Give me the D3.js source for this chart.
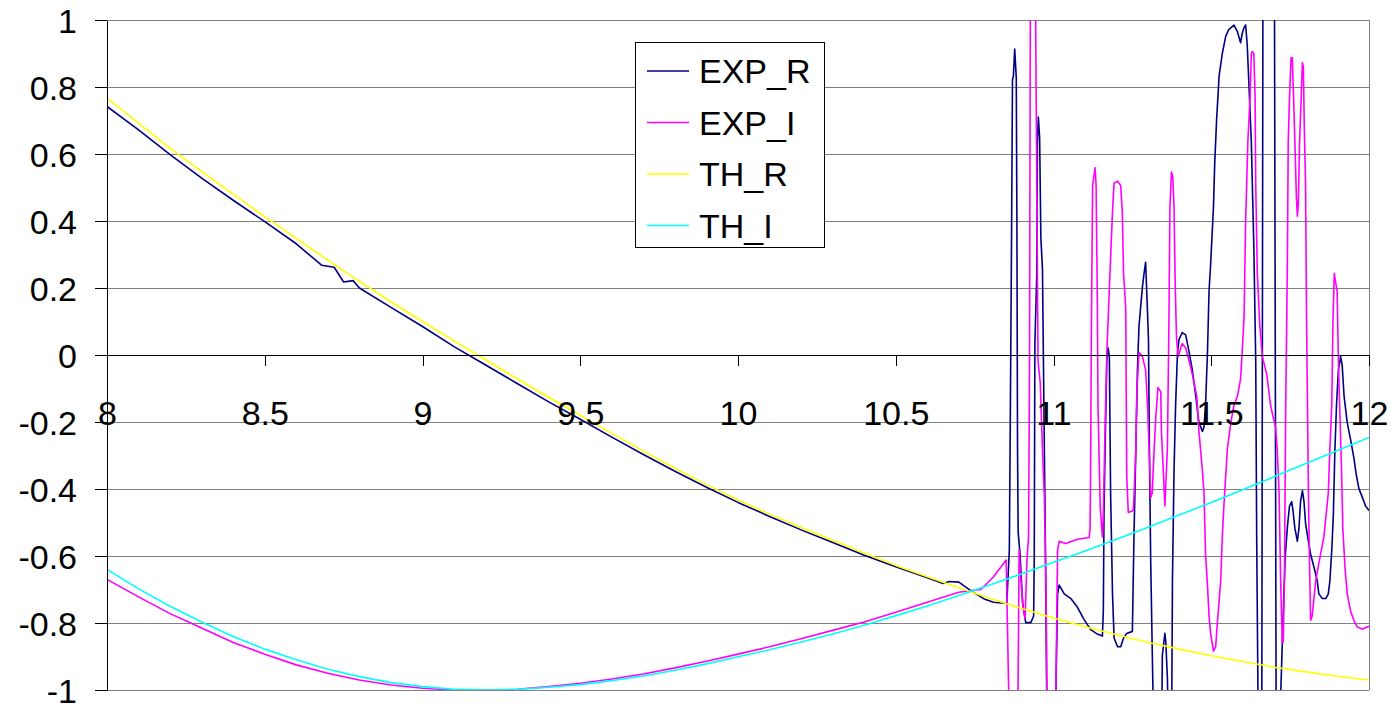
<!DOCTYPE html>
<html>
<head>
<meta charset="utf-8">
<script src="https://cdn.jsdelivr.net/npm/d3@7"></script>
<style>
  html, body { margin: 0; padding: 0; background: #fff; }
  svg { display: block; font-family: "Liberation Sans", Arial, sans-serif; }
</style>
</head>
<body>
<div id="chart"></div>
<script>
// theory curves, sampled every 0.1
const thX = [8.0, 8.1, 8.2, 8.3, 8.4, 8.5, 8.6, 8.7, 8.8, 8.9,
             9.0, 9.1, 9.2, 9.3, 9.4, 9.5, 9.6, 9.7, 9.8, 9.9,
             10.0, 10.1, 10.2, 10.3, 10.4, 10.5, 10.6, 10.7, 10.8, 10.9,
             11.0, 11.1, 11.2, 11.3, 11.4, 11.5, 11.6, 11.7, 11.8, 11.9, 12.0];
const thR = [0.767, 0.692, 0.617, 0.548, 0.480, 0.413, 0.348, 0.283, 0.220, 0.159,
             0.100, 0.042, -0.014, -0.071, -0.126, -0.180, -0.234, -0.287, -0.338, -0.387,
             -0.433, -0.475, -0.515, -0.553, -0.591, -0.628, -0.662, -0.695, -0.727, -0.757,
             -0.785, -0.811, -0.835, -0.858, -0.878, -0.898, -0.915, -0.932, -0.946, -0.959, -0.970];
const thI = [-0.640, -0.698, -0.750, -0.797, -0.840, -0.878, -0.910, -0.938, -0.960, -0.978,
             -0.990, -0.998, -1.000, -0.998, -0.992, -0.984, -0.972, -0.958, -0.941, -0.922,
             -0.901, -0.880, -0.857, -0.833, -0.807, -0.778, -0.749, -0.718, -0.686, -0.653,
             -0.619, -0.585, -0.550, -0.514, -0.477, -0.440, -0.402, -0.363, -0.324, -0.285, -0.246];

// measured curves [x, value]
const expR = [[8.0,0.742],[8.1,0.672],[8.2,0.598],[8.3,0.528],[8.4,0.462],[8.5,0.398],[8.6,0.332],[8.68,0.268],[8.72,0.262],[8.75,0.218],[8.78,0.222],[8.8,0.200],[8.9,0.142],[9.0,0.085],[9.1,0.025],[9.2,-0.030],[9.3,-0.085],[9.4,-0.140],[9.5,-0.192],[9.6,-0.245],[9.7,-0.297],[9.8,-0.347],[9.9,-0.395],[10.0,-0.440],[10.1,-0.482],[10.2,-0.522],[10.3,-0.560],[10.4,-0.598],[10.5,-0.632],[10.6,-0.665],[10.65,-0.682],[10.67,-0.676],[10.70,-0.678],[10.74,-0.705],[10.78,-0.728],[10.81,-0.738],[10.852,-0.742],[10.860,-0.582],[10.863,-0.202],[10.867,0.349],[10.870,0.821],[10.873,0.834],[10.877,0.913],[10.882,0.828],[10.884,0.401],[10.886,-0.281],[10.888,-0.530],[10.894,-0.595],[10.902,-0.740],[10.912,-0.799],[10.928,-0.799],[10.937,-0.779],[10.939,-0.609],[10.941,0.034],[10.947,0.244],[10.949,0.637],[10.952,0.710],[10.956,0.650],[10.960,0.349],[10.965,0.257],[10.970,-0.189],[10.974,-0.543],[10.978,-0.963],[10.981,-1.2],[11.004,-1.2],[11.013,-0.713],[11.018,-0.687],[11.034,-0.713],[11.055,-0.727],[11.076,-0.753],[11.097,-0.790],[11.118,-0.820],[11.139,-0.833],[11.155,-0.839],[11.158,-0.761],[11.160,-0.477],[11.164,-0.254],[11.169,-0.018],[11.173,0.021],[11.177,-0.005],[11.181,-0.412],[11.187,-0.713],[11.192,-0.845],[11.203,-0.871],[11.213,-0.871],[11.222,-0.845],[11.232,-0.831],[11.250,-0.825],[11.255,-0.543],[11.261,-0.281],[11.266,-0.045],[11.271,0.087],[11.282,0.205],[11.287,0.244],[11.292,0.277],[11.298,0.126],[11.301,0.047],[11.304,-0.281],[11.308,-0.609],[11.313,-0.884],[11.319,-1.2],[11.342,-1.2],[11.345,-0.897],[11.353,-0.831],[11.356,-0.858],[11.361,-0.963],[11.366,-1.2],[11.374,-1.2],[11.377,-0.674],[11.382,-0.346],[11.387,-0.150],[11.393,0.008],[11.398,0.047],[11.408,0.067],[11.419,0.060],[11.430,0.008],[11.440,-0.045],[11.451,-0.123],[11.461,-0.202],[11.472,-0.228],[11.477,-0.215],[11.482,-0.150],[11.488,0.008],[11.493,0.191],[11.498,0.270],[11.507,0.441],[11.511,0.572],[11.517,0.703],[11.525,0.834],[11.535,0.900],[11.546,0.952],[11.556,0.972],[11.572,0.985],[11.583,0.965],[11.593,0.932],[11.598,0.959],[11.604,0.978],[11.609,0.985],[11.614,0.926],[11.620,0.795],[11.627,0.637],[11.635,0.323],[11.641,-0.018],[11.644,-0.543],[11.648,-1.0],[11.651,-1.2],[11.660,-1.2],[11.664,1.2],[11.700,1.2],[11.706,-1.2],[11.714,-1.2],[11.727,-0.805],[11.734,-0.609],[11.741,-0.517],[11.748,-0.451],[11.755,-0.438],[11.759,-0.464],[11.765,-0.517],[11.773,-0.556],[11.778,-0.517],[11.783,-0.438],[11.789,-0.405],[11.794,-0.438],[11.799,-0.503],[11.808,-0.556],[11.815,-0.595],[11.826,-0.635],[11.836,-0.674],[11.841,-0.713],[11.852,-0.727],[11.863,-0.727],[11.871,-0.713],[11.876,-0.674],[11.882,-0.582],[11.887,-0.477],[11.892,-0.281],[11.897,-0.150],[11.903,-0.045],[11.910,-0.005],[11.915,-0.031],[11.921,-0.123],[11.931,-0.202],[11.942,-0.254],[11.952,-0.307],[11.960,-0.359],[11.968,-0.399],[11.979,-0.425],[11.989,-0.451],[12.0,-0.464]];

const expI = [[8.0,-0.670],[8.1,-0.722],[8.2,-0.772],[8.3,-0.815],[8.4,-0.858],[8.5,-0.893],[8.6,-0.925],[8.7,-0.950],[8.8,-0.970],[8.9,-0.985],[9.0,-0.995],[9.1,-1.000],[9.2,-1.002],[9.3,-0.998],[9.4,-0.990],[9.5,-0.980],[9.6,-0.967],[9.7,-0.952],[9.8,-0.934],[9.9,-0.914],[10.0,-0.893],[10.1,-0.871],[10.2,-0.847],[10.3,-0.822],[10.4,-0.797],[10.5,-0.768],[10.6,-0.738],[10.7,-0.708],[10.74,-0.703],[10.77,-0.700],[10.81,-0.662],[10.85,-0.612],[10.862,-1.2],[10.886,-1.2],[10.891,-0.582],[10.897,-0.674],[10.905,-0.766],[10.910,-0.786],[10.916,-0.609],[10.921,-0.543],[10.924,-0.018],[10.927,1.2],[10.942,1.2],[10.947,0.506],[10.951,-0.018],[10.958,-0.084],[10.965,-0.281],[10.971,-0.425],[10.976,-0.674],[10.981,-1.2],[11.005,-1.2],[11.013,-0.582],[11.018,-0.556],[11.039,-0.563],[11.076,-0.550],[11.113,-0.545],[11.116,-0.517],[11.118,-0.281],[11.120,0.073],[11.124,0.506],[11.132,0.559],[11.135,0.506],[11.139,0.165],[11.141,-0.150],[11.148,-0.451],[11.155,-0.543],[11.158,-0.477],[11.162,-0.281],[11.169,0.008],[11.179,0.244],[11.187,0.428],[11.192,0.513],[11.203,0.519],[11.213,0.506],[11.218,0.428],[11.222,0.244],[11.229,0.139],[11.232,-0.359],[11.237,-0.470],[11.253,-0.464],[11.255,-0.425],[11.261,-0.281],[11.264,-0.110],[11.271,0.008],[11.282,-0.005],[11.292,-0.045],[11.298,-0.150],[11.303,-0.281],[11.308,-0.425],[11.313,-0.412],[11.319,-0.281],[11.324,-0.189],[11.331,-0.097],[11.340,-0.110],[11.342,-0.228],[11.348,-0.346],[11.353,-0.451],[11.356,-0.386],[11.361,-0.281],[11.366,0.113],[11.369,0.441],[11.374,0.546],[11.378,0.532],[11.382,0.441],[11.386,0.200],[11.390,0.050],[11.395,-0.005],[11.408,0.034],[11.419,0.021],[11.430,-0.018],[11.440,-0.058],[11.454,-0.123],[11.461,-0.228],[11.472,-0.346],[11.477,-0.412],[11.482,-0.595],[11.488,-0.687],[11.493,-0.779],[11.498,-0.831],[11.507,-0.884],[11.514,-0.871],[11.519,-0.805],[11.530,-0.674],[11.535,-0.543],[11.540,-0.451],[11.551,-0.281],[11.562,-0.202],[11.572,-0.150],[11.583,-0.123],[11.593,-0.071],[11.598,0.008],[11.604,0.113],[11.609,0.401],[11.616,0.637],[11.623,0.769],[11.627,0.900],[11.630,0.906],[11.635,0.900],[11.639,0.769],[11.641,0.506],[11.646,0.244],[11.654,0.087],[11.662,-0.005],[11.676,-0.058],[11.688,-0.150],[11.697,-0.189],[11.704,-0.215],[11.709,-0.281],[11.715,-0.412],[11.720,-0.674],[11.725,-0.858],[11.728,-0.858],[11.732,-0.674],[11.736,-0.150],[11.741,0.244],[11.744,0.637],[11.748,0.769],[11.753,0.887],[11.757,0.887],[11.761,0.769],[11.765,0.637],[11.770,0.467],[11.773,0.414],[11.776,0.454],[11.780,0.637],[11.784,0.742],[11.789,0.873],[11.792,0.860],[11.795,0.677],[11.799,0.506],[11.802,0.113],[11.808,-0.412],[11.812,-0.648],[11.815,-0.792],[11.820,-0.779],[11.831,-0.674],[11.841,-0.622],[11.857,-0.543],[11.871,-0.412],[11.876,-0.281],[11.882,-0.150],[11.886,0.113],[11.890,0.244],[11.894,0.218],[11.899,0.191],[11.903,-0.018],[11.907,-0.150],[11.913,-0.346],[11.917,-0.517],[11.924,-0.635],[11.931,-0.713],[11.942,-0.766],[11.952,-0.792],[11.963,-0.812],[11.979,-0.818],[12.0,-0.810]];

const seriesNames = ["EXP_R", "EXP_I", "TH_R", "TH_I"];
const seriesColors = ["#000080", "#ff00ff", "#ffff00", "#00ffff"];
const xTicks = [8, 8.5, 9, 9.5, 10, 10.5, 11, 11.5, 12];
const yTicks = [-1, -0.8, -0.6, -0.4, -0.2, 0, 0.2, 0.4, 0.6, 0.8, 1];

const width = 1396, height = 707;
const plotLeft = 107, plotRight = 1369, plotTop = 20, plotBottom = 690;

const svg = d3.select("#chart").append("svg")
  .attr("width", width)
  .attr("height", height);

svg.append("rect").attr("width", width).attr("height", height).attr("fill", "#fff");

const x = d3.scaleLinear().domain([8, 12]).range([plotLeft, plotRight]);
const y = d3.scaleLinear().domain([-1, 1]).range([plotBottom, plotTop]);

// horizontal grid
svg.append("g")
  .selectAll("line")
  .data(yTicks)
  .enter().append("line")
    .attr("x1", plotLeft).attr("x2", plotRight)
    .attr("y1", d => y(d)).attr("y2", d => y(d))
    .attr("stroke", "#808080")
    .attr("stroke-width", 1)
    .attr("shape-rendering", "crispEdges");

// right border of plot area
svg.append("line")
  .attr("x1", plotRight).attr("x2", plotRight)
  .attr("y1", plotTop).attr("y2", plotBottom)
  .attr("stroke", "#808080")
  .attr("shape-rendering", "crispEdges");

svg.append("clipPath").attr("id", "plot-clip")
  .append("rect")
    .attr("x", plotLeft).attr("y", plotTop)
    .attr("width", plotRight - plotLeft).attr("height", plotBottom - plotTop);

const line = d3.line().x(d => x(d[0])).y(d => y(d[1]));

const thRPts = thX.map((v, i) => [v, thR[i]]);
const thIPts = thX.map((v, i) => [v, thI[i]]);
const allSeries = [expR, expI, thRPts, thIPts];

const plot = svg.append("g").attr("clip-path", "url(#plot-clip)");
plot.selectAll("path")
  .data(allSeries)
  .enter().append("path")
    .attr("d", line)
    .attr("fill", "none")
    .attr("stroke", (d, i) => seriesColors[i])
    .attr("stroke-width", 1.6)
    .attr("stroke-linejoin", "round");

// y axis
const yAxis = svg.append("g")
  .attr("transform", `translate(${plotLeft},0)`)
  .call(d3.axisLeft(y).tickValues(yTicks).tickSize(12).tickSizeOuter(0)
    .tickPadding(18).tickFormat(d => String(d)));
yAxis.select(".domain").attr("stroke", "#000").attr("shape-rendering", "crispEdges");
yAxis.selectAll(".tick line").attr("stroke", "#000").attr("shape-rendering", "crispEdges");
yAxis.selectAll("text")
  .attr("font-size", 34)
  .attr("font-family", "'Liberation Sans', Arial, sans-serif")
  .attr("fill", "#000")
  .attr("dy", "0.36em");

// x axis across the zero line
const xAxis = svg.append("g")
  .attr("transform", `translate(0,${y(0)})`)
  .call(d3.axisBottom(x).tickValues(xTicks).tickSize(11).tickSizeOuter(0)
    .tickFormat(d => String(d)));
xAxis.select(".domain").attr("stroke", "#000").attr("shape-rendering", "crispEdges");
xAxis.selectAll(".tick line").attr("stroke", "#000").attr("shape-rendering", "crispEdges");
xAxis.selectAll("text")
  .attr("font-size", 34)
  .attr("font-family", "'Liberation Sans', Arial, sans-serif")
  .attr("fill", "#000")
  .attr("y", 70)
  .attr("dy", 0);

// legend
const legend = svg.append("g").attr("transform", "translate(635,42)");
legend.append("rect")
  .attr("width", 189).attr("height", 205)
  .attr("fill", "#fff").attr("stroke", "#000").attr("stroke-width", 1)
  .attr("shape-rendering", "crispEdges");

const item = legend.selectAll(".chart-legend")
  .data(seriesNames)
  .enter().append("g")
    .attr("class", "chart-legend")
    .attr("transform", (d, i) => `translate(0, ${29 + i * 51.5})`);

item.append("line")
  .attr("x1", 12).attr("x2", 54)
  .attr("stroke", (d, i) => seriesColors[i])
  .attr("stroke-width", 1.6);

item.append("text")
  .attr("x", 64).attr("y", 12)
  .attr("font-size", 34)
  .attr("fill", "#000")
  .text(d => d);
</script>
</body>
</html>
